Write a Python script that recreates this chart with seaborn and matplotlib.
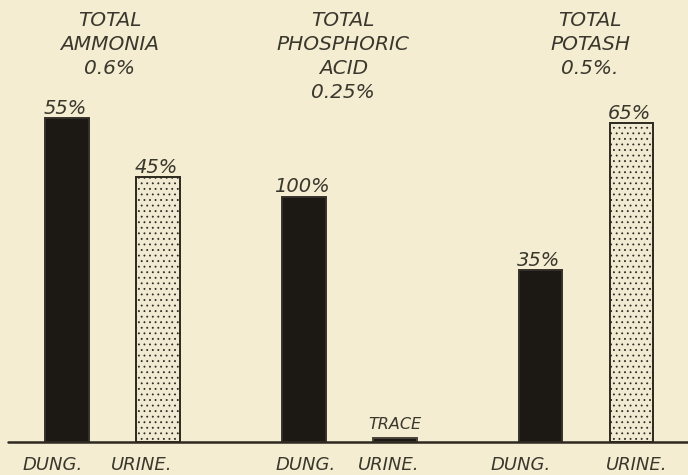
import matplotlib
matplotlib.use("Agg")
import matplotlib.pyplot as plt
import matplotlib.transforms as mtransforms
import seaborn as sns
import pandas as pd

# ---------------- data ----------------
nutrients = ["AMMONIA", "PHOSPHORIC ACID", "POTASH"]
totals = [0.6, 0.25, 0.5]            # total % in manure
dung_share = [55, 100, 35]           # % of total coming from dung
urine_share = [45, 0, 65]            # % of total coming from urine
trace_amount = 0.0045                # drawn height for a "trace"
title_lines = [["TOTAL", "AMMONIA", "0.6%"],
               ["TOTAL", "PHOSPHORIC", "ACID", "0.25%"],
               ["TOTAL", "POTASH", "0.5%."]]
sources = ["DUNG.", "URINE."]

rows = []
for n, t, d, u in zip(nutrients, totals, dung_share, urine_share):
    rows.append(dict(nutrient=n, source="DUNG.", value=t * d / 100, share=d))
    rows.append(dict(nutrient=n, source="URINE.",
                     value=(t * u / 100) if u > 0 else trace_amount, share=u))
df = pd.DataFrame(rows)

# ---------------- style ----------------
BG = "#f4edd2"
DARK = "#1c1914"
LIGHT = "#f1ead3"
EDGE = "#2d2920"
TEXT = "#3a372d"

sns.set_theme(style="white")
plt.rcParams["font.family"] = ["DejaVu Sans"]
plt.rcParams["hatch.linewidth"] = 0.6

fig = plt.figure(figsize=(6.88, 4.75), dpi=100, facecolor=BG)
ax = fig.add_axes([0, 0, 1, 1])
ax.set_facecolor(BG)

sns.barplot(data=df, x="nutrient", y="value", hue="source",
            order=nutrients, hue_order=sources,
            palette={"DUNG.": DARK, "URINE.": LIGHT},
            saturation=1, width=0.77, gap=0.52, dodge=True,
            errorbar=None, legend=False, ax=ax,
            edgecolor=EDGE, linewidth=1.4)

# pixel geometry of the page
PX_PER_UNIT = 982.0
BASE_PX_FROM_BOTTOM = 33.0
H = 475.0
ax.set_ylim(-BASE_PX_FROM_BOTTOM / PX_PER_UNIT, (H - BASE_PX_FROM_BOTTOM) / PX_PER_UNIT)
GROUP0_PX, GROUP_SPACING_PX = 112.5, 236.75
ax.set_xlim(-GROUP0_PX / GROUP_SPACING_PX, (688 - GROUP0_PX) / GROUP_SPACING_PX)

for s in ax.spines.values():
    s.set_visible(False)
ax.set_xticks([])
ax.set_yticks([])
ax.set_xlabel("")
ax.set_ylabel("")

# baseline
ax.axhline(0, xmin=8 / 688, xmax=1, color=EDGE, lw=1.8, zorder=5)

dung_bars, urine_bars = ax.containers[0], ax.containers[1]
for p in dung_bars:
    p.set_facecolor(DARK)
    p.set_edgecolor("#35302a")

tkw = dict(color=TEXT, style="oblique", ha="center")

# bottom label x offsets (pixels) relative to each bar
bottom_dx = {("DUNG.", 0): -14, ("URINE.", 0): -16, ("DUNG.", 1): 2,
             ("URINE.", 1): -6, ("DUNG.", 2): -20, ("URINE.", 2): 5}

for src, bars, shares in (("DUNG.", dung_bars, dung_share),
                          ("URINE.", urine_bars, urine_share)):
    for i, (p, sh) in enumerate(zip(bars, shares)):
        cx = p.get_x() + p.get_width() / 2
        top = p.get_height()
        if sh > 0:
            if src == "URINE.":
                p.set_hatch("...")
            ax.annotate(f"{sh}%", (cx, top), xytext=(-2, 4),
                        textcoords="offset pixels", va="baseline",
                        fontsize=14, **tkw)
        else:
            p.set_facecolor(DARK)
            p.set_edgecolor("#4a443a")
            p.set_hatch(None)
            ax.annotate("TRACE", (cx, top), xytext=(0, 9),
                        textcoords="offset pixels", va="baseline",
                        fontsize=11.5, **tkw)
        ax.annotate(src, (cx, 0), xytext=(bottom_dx[(src, i)], -23),
                    textcoords="offset pixels", va="center",
                    fontsize=13, **tkw)

# titles above each group
trans = mtransforms.blended_transform_factory(ax.transData, ax.transAxes)
title_dx = [-3, -6, 4]
line_y_px = [20, 44, 68, 92]
for gi, lines in enumerate(title_lines):
    for li, line in enumerate(lines):
        y = 1 - line_y_px[li] / H
        ax.text(gi + title_dx[gi] / GROUP_SPACING_PX, y, line,
                transform=trans, va="center", fontsize=14.5, **tkw)

fig.savefig("out.png", dpi=100, facecolor=BG)
